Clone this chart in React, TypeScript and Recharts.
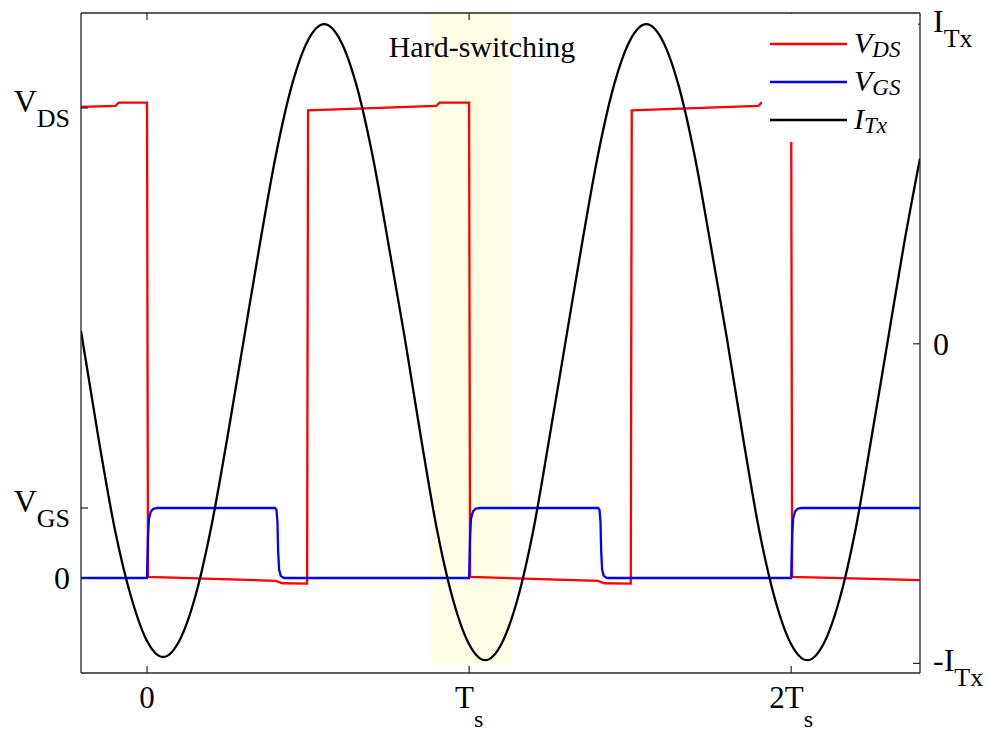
import React from "react";
import { ComposedChart, Line, XAxis, YAxis, ReferenceArea, Legend } from "recharts";

// time in units of Ts
const timeTicks = [0, 1, 2];
const timeTickLabels = [["0", ""], ["T", "s"], ["2T", "s"]];

// left axis: voltages (V_GS = 1)
const voltTicks = [0, 1, 6.714];
const voltTickLabels = [["0", ""], ["V", "GS"], ["V", "DS"]];

// right axis: current (I_Tx = 1)
const currTicks = [-1, 0, 1];
const currTickLabels = [["-I", "Tx"], ["0", ""], ["I", "Tx"]];

const iTxT = [
  -0.205, -0.15, -0.1, -0.05, 0, 0.05, 0.1, 0.15, 0.2, 0.25, 0.3, 0.35, 0.4, 0.45, 0.5, 0.55, 0.6, 0.65,
  0.7, 0.75, 0.8, 0.85, 0.9, 0.95, 1, 1.05, 1.1, 1.15, 1.2, 1.25, 1.3, 1.35, 1.4, 1.45, 1.5, 1.55, 1.6,
  1.65, 1.7, 1.75, 1.8, 1.85, 1.9, 1.95, 2, 2.05, 2.1, 2.15, 2.2, 2.25, 2.3, 2.35, 2.4,
];
const iTx = [
  0.04, -0.3, -0.58, -0.79, -0.93, -0.98, -0.93, -0.79, -0.57, -0.29, 0.01, 0.31, 0.59, 0.81, 0.95, 1.0,
  0.95, 0.81, 0.59, 0.31, 0.02, -0.29, -0.58, -0.8, -0.94, -0.99, -0.94, -0.8, -0.58, -0.29, 0.01, 0.31,
  0.59, 0.81, 0.95, 1.0, 0.95, 0.81, 0.59, 0.31, 0.02, -0.29, -0.58, -0.8, -0.94, -0.99, -0.94, -0.8,
  -0.58, -0.29, 0.01, 0.31, 0.58,
];

const vdsT = [
  -0.205, -0.098, -0.088, 0, 0.003, 0.4, 0.41, 0.42, 0.497, 0.5, 0.898, 0.908, 1, 1.003, 1.4, 1.41, 1.42,
  1.502, 1.505, 1.898, 1.908, 2, 2.003, 2.4,
];
const vds = [
  6.73, 6.745, 6.79, 6.79, 0.015, -0.04, -0.06, -0.075, -0.08, 6.68, 6.745, 6.79, 6.79, 0.015, -0.04,
  -0.06, -0.075, -0.08, 6.68, 6.745, 6.79, 6.79, 0.015, -0.03,
];

const vgsT = [
  -0.205, 0, 0.003, 0.006, 0.012, 0.02, 0.032, 0.398, 0.402, 0.405, 0.407, 0.41, 0.415, 0.425, 1, 1.003,
  1.006, 1.012, 1.02, 1.032, 1.401, 1.405, 1.408, 1.41, 1.413, 1.418, 1.428, 2, 2.003, 2.006, 2.012,
  2.02, 2.032, 2.4,
];
const vgs = [
  0, 0, 0.6, 0.85, 0.95, 0.99, 1, 1, 0.97, 0.8, 0.4, 0.12, 0.03, 0, 0, 0.6, 0.85, 0.95, 0.99, 1, 1, 0.97,
  0.8, 0.4, 0.12, 0.03, 0, 0, 0.6, 0.85, 0.95, 0.99, 1, 1,
];

const hardSwitch = [0.882, 1.13];

const legendItems = [
  { main: "V", sub: "DS", color: "#ff0000" },
  { main: "V", sub: "GS", color: "#0000ff" },
  { main: "I", sub: "Tx", color: "#000000" },
];

const toPoints = (ts: number[], vs: number[]) => ts.map((t, k) => ({ t, v: vs[k] }));
const iTxData = toPoints(iTxT, iTx);
const vdsData = toPoints(vdsT, vds);
const vgsData = toPoints(vgsT, vgs);

const FONT = "'Liberation Serif', 'Times New Roman', serif";
const AXIS = "#262626";
const W = 989;
const H = 735;
const PLOT_LEFT = 81;
const PLOT_RIGHT = 920;
const PLOT_TOP = 13;
const PLOT_BOTTOM = 673;
const TICK = 7;
const LINE_W = 2.3;

const BottomTick = (props: any) => {
  const { x, payload } = props;
  const k = timeTicks.indexOf(payload.value);
  const [main, sub] = timeTickLabels[k] || ["", ""];
  return (
    <g>
      <line x1={x} x2={x} y1={PLOT_BOTTOM} y2={PLOT_BOTTOM - TICK} stroke={AXIS} strokeWidth={1.2} />
      <text x={x} y={PLOT_BOTTOM + 35} textAnchor="middle" fontFamily={FONT} fontSize={31} fill="#000">
        {main}
        {sub && (
          <tspan fontSize={24} dy={19}>
            {sub}
          </tspan>
        )}
      </text>
    </g>
  );
};

const TopTick = (props: any) => {
  const { x } = props;
  return <line x1={x} x2={x} y1={PLOT_TOP} y2={PLOT_TOP + TICK} stroke={AXIS} strokeWidth={1.2} />;
};

const LeftTick = (props: any) => {
  const { y, payload } = props;
  const k = voltTicks.indexOf(payload.value);
  const [main, sub] = voltTickLabels[k] || ["", ""];
  return (
    <g>
      <line x1={PLOT_LEFT} x2={PLOT_LEFT + TICK} y1={y} y2={y} stroke={AXIS} strokeWidth={1.2} />
      <text
        x={70}
        y={sub ? y + 4 : y + 11}
        textAnchor="end"
        fontFamily={FONT}
        fontSize={32}
        fill="#000"
      >
        {main}
        {sub && (
          <tspan fontSize={26} dy={15}>
            {sub}
          </tspan>
        )}
      </text>
    </g>
  );
};

const RightTick = (props: any) => {
  const { y, payload } = props;
  const k = currTicks.indexOf(payload.value);
  const [main, sub] = currTickLabels[k] || ["", ""];
  return (
    <g>
      <line x1={PLOT_RIGHT} x2={PLOT_RIGHT - TICK} y1={y} y2={y} stroke={AXIS} strokeWidth={1.2} />
      <text x={933} y={sub ? y + 8 : y + 11} textAnchor="start" fontFamily={FONT} fontSize={32} fill="#000">
        {main}
        {sub && (
          <tspan fontSize={26} dy={15}>
            {sub}
          </tspan>
        )}
      </text>
    </g>
  );
};

const HardSwitchLabel = (props: any) => {
  const vb = props.viewBox || { x: 0, y: 0, width: 0 };
  return (
    <text
      x={vb.x + vb.width / 2 + 11}
      y={vb.y + 44}
      textAnchor="middle"
      fontFamily={FONT}
      fontSize={30}
      fill="#000"
    >
      Hard-switching
    </text>
  );
};

const LegendBox = () => (
  <div style={{ background: "#fff", width: 156, height: 128 }}>
    <svg width={156} height={128}>
      {legendItems.map((it, k) => {
        const y = 30 + k * 38;
        return (
          <g key={k}>
            <line x1={8} x2={85} y1={y} y2={y} stroke={it.color} strokeWidth={LINE_W} />
            <text x={92} y={y + 9} fontFamily={FONT} fontStyle="italic" fontSize={30} fill="#000">
              {it.main}
              <tspan fontSize={23} dy={4}>
                {it.sub}
              </tspan>
            </text>
          </g>
        );
      })}
    </svg>
  </div>
);

export default function App() {
  return (
    <div style={{ position: "absolute", left: 0, top: 0, width: W, height: H, background: "#fff" }}>
      <ComposedChart width={W} height={H} margin={{ top: 0, right: 0, bottom: 0, left: 0 }}>
        <XAxis
          xAxisId="bottom"
          dataKey="t"
          type="number"
          domain={[-0.205, 2.4]}
          allowDataOverflow
          ticks={timeTicks}
          height={H - PLOT_BOTTOM}
          axisLine={{ stroke: AXIS, strokeWidth: 1.3 }}
          tickLine={false}
          tick={<BottomTick />}
          interval={0}
        />
        <XAxis
          xAxisId="top"
          orientation="top"
          dataKey="t"
          type="number"
          domain={[-0.205, 2.4]}
          allowDataOverflow
          ticks={timeTicks}
          height={PLOT_TOP}
          axisLine={{ stroke: AXIS, strokeWidth: 1.3 }}
          tickLine={false}
          tick={<TopTick />}
          interval={0}
        />
        <YAxis
          yAxisId="left"
          type="number"
          domain={[-1.357, 8.071]}
          allowDataOverflow
          ticks={voltTicks}
          width={PLOT_LEFT}
          axisLine={{ stroke: AXIS, strokeWidth: 1.3 }}
          tickLine={false}
          tick={<LeftTick />}
          interval={0}
        />
        <YAxis
          yAxisId="right"
          orientation="right"
          type="number"
          domain={[-1.03, 1.035]}
          allowDataOverflow
          ticks={currTicks}
          width={W - PLOT_RIGHT}
          axisLine={{ stroke: AXIS, strokeWidth: 1.3 }}
          tickLine={false}
          tick={<RightTick />}
          interval={0}
        />
        <ReferenceArea
          xAxisId="bottom"
          yAxisId="right"
          x1={hardSwitch[0]}
          x2={hardSwitch[1]}
          y1={-1.0}
          y2={1.035}
          fill="#ffff00"
          fillOpacity={0.1}
          stroke="none"
          label={<HardSwitchLabel />}
        />
        <Line
          data={vdsData}
          xAxisId="bottom"
          yAxisId="left"
          dataKey="v"
          name="VDS"
          type="linear"
          stroke="#ff0000"
          strokeWidth={LINE_W}
          dot={false}
          isAnimationActive={false}
        />
        <Line
          data={vgsData}
          xAxisId="bottom"
          yAxisId="left"
          dataKey="v"
          name="VGS"
          type="linear"
          stroke="#0000ff"
          strokeWidth={LINE_W}
          dot={false}
          isAnimationActive={false}
        />
        <Line
          data={iTxData}
          xAxisId="bottom"
          yAxisId="right"
          dataKey="v"
          name="ITx"
          type="monotone"
          stroke="#000000"
          strokeWidth={LINE_W}
          dot={false}
          isAnimationActive={false}
        />
        <Legend
          layout="vertical"
          align="center"
          verticalAlign="middle"
          content={() => <LegendBox />}
          wrapperStyle={{ position: "absolute", left: 762, top: 14, width: 156, height: 128 }}
        />
      </ComposedChart>
    </div>
  );
}
